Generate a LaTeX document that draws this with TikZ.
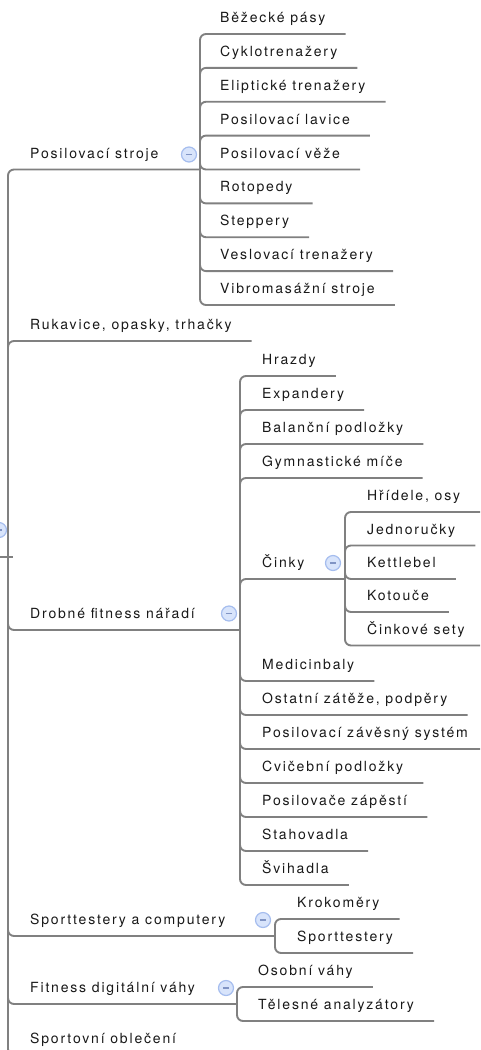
\documentclass[tikz,border=0pt]{standalone}
\usepackage{fontspec}
\setmainfont{TeX Gyre Heros}[LetterSpace=13]
\usetikzlibrary{calc}

\definecolor{linegray}{RGB}{128,128,128}
\definecolor{ink}{RGB}{24,24,24}
\definecolor{knobfill}{RGB}{216,228,251}
\definecolor{knobedge}{RGB}{165,189,238}
\definecolor{knobbar}{RGB}{128,148,196}

\tikzset{
  branch/.style={draw=linegray, line width=1.9pt, rounded corners=6pt},
  itemtext/.style={anchor=base west, inner sep=0pt, text=ink,
                   font=\fontsize{14}{16}\selectfont},
  knob/.style={circle, draw=knobedge, fill=knobfill, line width=1.2pt,
               minimum size=15pt, inner sep=0pt,
               path picture={\draw[knobbar, line width=1.7pt]
                 ([xshift=-3.2pt]path picture bounding box.center) --
                 ([xshift=3.2pt]path picture bounding box.center);}},
}

% leaf: name, text x, line y, fork coordinate, text
\newcommand{\leafitem}[5]{%
  \node[itemtext] (#1) at (#2,#3-11.5) {#5};
  \draw[branch] (#4) |- ($(#1.base east)+(20,11.5)$);
}

\begin{document}
\begin{tikzpicture}[x=1pt,y=-1pt]
\useasboundingbox (0,0) rectangle (480,1050);
\clip (0,0) rectangle (480,1050);

% root (off the left edge) and its trunk
\coordinate (rootout) at (-10,557);
\coordinate (rj) at (8,557);
\draw[branch] (rootout) -- (13,557);
\node[knob] (root) at (-1,530) {};

% forks of the expanded branches
\coordinate (f1) at (200,169.5);
\coordinate (f3) at (240,630);
\coordinate (f6) at (345,579);
\coordinate (f4) at (275,936);
\coordinate (f5) at (237,1004);

% first level
\node[itemtext] (posstroje) at (30,169.5-11.5) {Posilovací stroje};
\draw[branch] (rj) |- (f1);
\node[knob] (k1) at (189,154.5) {};

\leafitem{rukavice}{30}{341}{rj}{Rukavice, opasky, trhačky}

\node[itemtext] (drobne) at (30,630-11.5) {Drobné fitness nářadí};
\draw[branch] (rj) |- (f3);
\node[knob] (k3) at (229,613.5) {};

\node[itemtext] (sporttest) at (30,936-11.5) {Sporttestery a computery};
\draw[branch] (rj) |- (f4);
\node[knob] (k4) at (263,920) {};

\node[itemtext] (vahy) at (30,1004-11.5) {Fitness digitální váhy};
\draw[branch] (rj) |- (f5);
\node[knob] (k5) at (226,988) {};

\leafitem{obleceni}{30}{1055}{rj}{Sportovní oblečení}

% Posilovací stroje
\leafitem{p1}{220}{34}{f1}{Běžecké pásy}
\leafitem{p2}{220}{67.9}{f1}{Cyklotrenažery}
\leafitem{p3}{220}{101.75}{f1}{Eliptické trenažery}
\leafitem{p4}{220}{135.6}{f1}{Posilovací lavice}
\leafitem{p5}{220}{169.5}{f1}{Posilovací věže}
\leafitem{p6}{220}{203.4}{f1}{Rotopedy}
\leafitem{p7}{220}{237.25}{f1}{Steppery}
\leafitem{p8}{220}{271.1}{f1}{Veslovací trenažery}
\leafitem{p9}{220}{305}{f1}{Vibromasážní stroje}

% Drobné fitness nářadí
\leafitem{d1}{262}{376}{f3}{Hrazdy}
\leafitem{d2}{262}{410}{f3}{Expandery}
\leafitem{d3}{262}{444}{f3}{Balanční podložky}
\leafitem{d4}{262}{478}{f3}{Gymnastické míče}
\node[itemtext] (cinky) at (262,579-11.5) {Činky};
\draw[branch] (f3) |- (f6);
\node[knob] (k6) at (333,563) {};
\leafitem{d6}{262}{681}{f3}{Medicinbaly}
\leafitem{d7}{262}{715}{f3}{Ostatní zátěže, podpěry}
\leafitem{d8}{262}{749}{f3}{Posilovací závěsný systém}
\leafitem{d9}{262}{783}{f3}{Cvičební podložky}
\leafitem{d10}{262}{817}{f3}{Posilovače zápěstí}
\leafitem{d11}{262}{851}{f3}{Stahovadla}
\leafitem{d12}{262}{885}{f3}{Švihadla}

% Činky
\leafitem{c1}{367}{512}{f6}{Hřídele, osy}
\leafitem{c2}{367}{545.5}{f6}{Jednoručky}
\leafitem{c3}{367}{579}{f6}{Kettlebel}
\leafitem{c4}{367}{612}{f6}{Kotouče}
\leafitem{c5}{367}{645.5}{f6}{Činkové sety}

% Sporttestery a computery
\leafitem{s1}{297}{919}{f4}{Krokoměry}
\leafitem{s2}{297}{953}{f4}{Sporttestery}

% Fitness digitální váhy
\leafitem{v1}{258}{987}{f5}{Osobní váhy}
\leafitem{v2}{258}{1021}{f5}{Tělesné analyzátory}
\end{tikzpicture}
\end{document}
